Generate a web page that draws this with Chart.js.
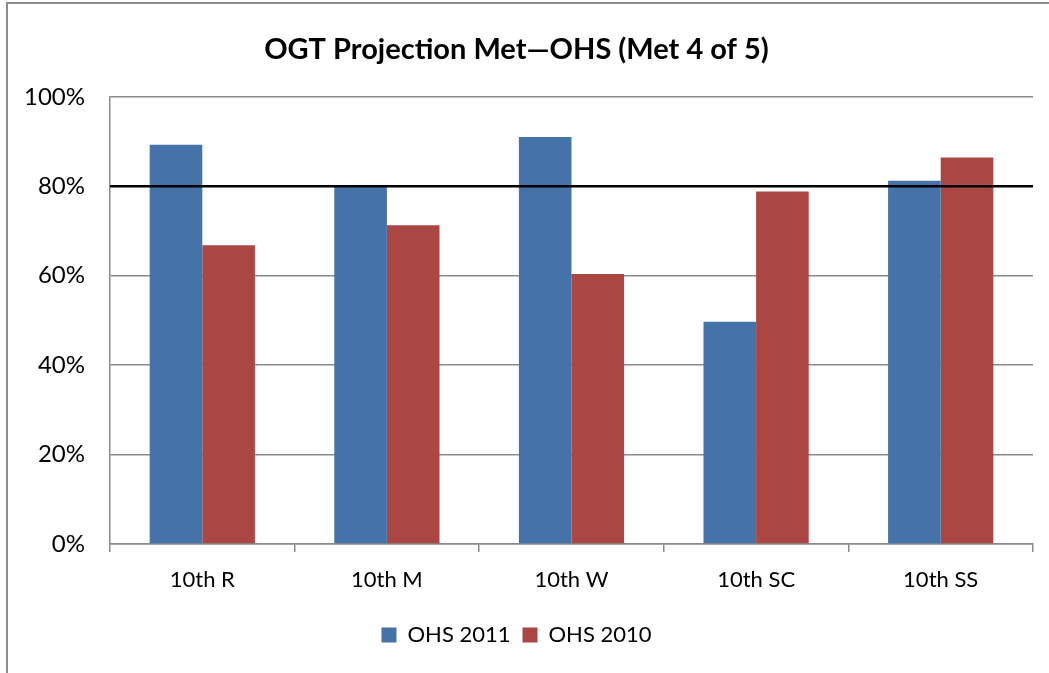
<!DOCTYPE html>
<html lang="en">
<head>
  <title>OGT Projection Met</title>
  <meta name="viewport" content="width=device-width, initial-scale=1">
  <script src="https://cdn.jsdelivr.net/npm/chart.js@4.4.1/dist/chart.umd.min.js"></script>
  <style>
    html, body { margin: 0; padding: 0; background: #fff; overflow: hidden; }
    #frame { position: absolute; left: 6px; top: 2px; width: 1200px; height: 800px;
             border-left: 2px solid #8c8c8c; border-top: 2px solid #8c8c8c; }
    #wrap { position: absolute; left: 0; top: 0; width: 1049px; height: 673px; }
  </style>
</head>
<body>
<div id="frame"></div>
<div id="wrap"><canvas id="mycanvas"></canvas></div>

<script>
// categories and values (percent)
const categories = ['10th R', '10th M', '10th W', '10th SC', '10th SS'];
const ohs2011 = [89.3, 79.9, 91.0, 49.7, 81.2];
const ohs2010 = [66.8, 71.3, 60.4, 78.8, 86.4];
const yTicks = [0, 20, 40, 60, 80, 100];
const target = 80; // projection line

const fontName = 'Lato';

// horizontal target line drawn across the plot
const targetLine = {
  id: 'targetLine',
  afterDatasetsDraw(chart) {
    const ctx = chart.ctx;
    const area = chart.chartArea;
    const y = chart.scales.y.getPixelForValue(target);
    ctx.save();
    ctx.strokeStyle = '#000';
    ctx.lineWidth = 2.5;
    ctx.beginPath();
    ctx.moveTo(area.left, y);
    ctx.lineTo(area.right, y);
    ctx.stroke();
    ctx.restore();
  }
};

var ctx = document.getElementById('mycanvas');
var myChart = new Chart(ctx, {
  type: 'bar',
  data: {
    labels: categories,
    datasets: [
      { label: 'OHS 2011', data: ohs2011, backgroundColor: '#4572A7' },
      { label: 'OHS 2010', data: ohs2010, backgroundColor: '#AA4643' }
    ]
  },
  options: {
    responsive: true,
    maintainAspectRatio: false,
    animation: false,
    categoryPercentage: 0.57,
    barPercentage: 1.0,
    layout: { padding: { left: 0, right: 16, top: 0, bottom: 17 } },
    scales: {
      x: {
        afterFit: function(scale) { scale.height = 68; },
        grid: { display: true, drawOnChartArea: false, drawTicks: true, tickLength: 8,
                color: '#8a8a8a', lineWidth: 1.5, offset: true },
        border: { color: '#8a8a8a', width: 1.5 },
        ticks: { color: '#000', padding: 15, font: { family: fontName, size: 22 } }
      },
      y: {
        min: 0,
        max: 100,
        afterFit: function(scale) { scale.width = 110; },
        afterBuildTicks: function(scale) { scale.ticks = yTicks.map(v => ({ value: v })); },
        grid: { color: '#8a8a8a', lineWidth: 1.5, drawTicks: false },
        border: { color: '#8a8a8a', width: 1.5 },
        ticks: { color: '#000', padding: 25, font: { family: fontName, size: 24 },
                 callback: v => v + '%' }
      }
    },
    plugins: {
      title: {
        display: true,
        text: 'OGT Projection Met\u2014OHS (Met 4 of 5)',
        color: '#000',
        font: { family: fontName, size: 29, weight: 'bold' },
        padding: { top: 32, bottom: 30 }
      },
      legend: {
        position: 'bottom',
        labels: { color: '#000', boxWidth: 15, boxHeight: 15, padding: 12,
                  font: { family: fontName, size: 22 } }
      },
      tooltip: { enabled: false }
    }
  },
  plugins: [targetLine]
});
</script>
</body>
</html>
